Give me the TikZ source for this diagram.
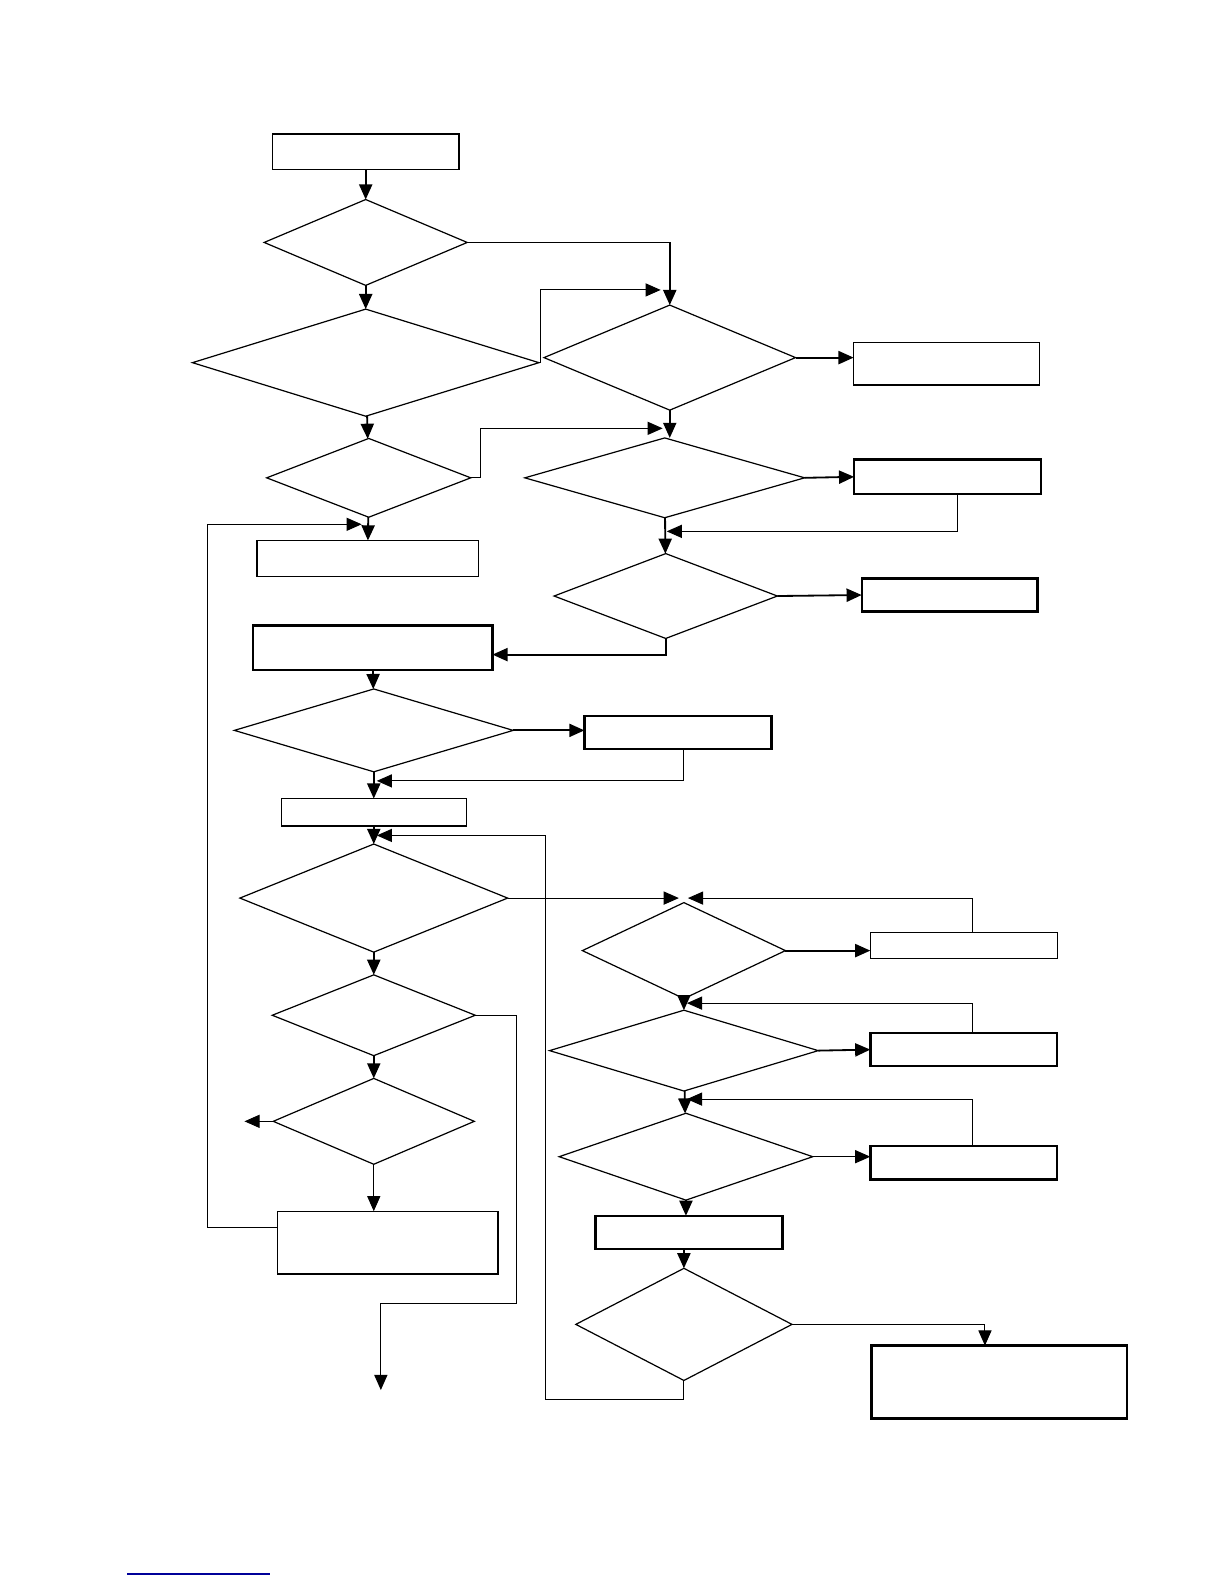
\documentclass[tikz,border=0pt]{standalone}
\usepackage{tikz}
\usetikzlibrary{shapes.geometric,arrows.meta}

\begin{document}
\begin{tikzpicture}[x=1pt,y=-1pt,
		blk/.style={draw, rectangle, inner sep=0pt, outer sep=0pt, line width=1.3pt},
		blkb/.style={blk, line width=2.4pt},
		dec/.style={draw, diamond, inner sep=0pt, outer sep=0pt, line width=1.2pt},
		arr/.style={-{Triangle[length=15pt,width=13pt]}, line width=1.8pt},
		back/.style={-{Triangle[length=15pt,width=13pt]}, line width=1pt}]

	\fill[white] (0,0) rectangle (1212,1568);

	% left column
	\node[blk, minimum width=185pt, minimum height=35pt] (start) at (362,150) {};
	\node[dec, minimum width=201pt, minimum height=85pt] (q1) at (362,240) {};
	\node[dec, minimum width=343pt, minimum height=106pt] (q2) at (362,359) {};
	\node[dec, minimum width=202pt, minimum height=78pt] (q4) at (365,473) {};
	\node[blk, minimum width=219pt, minimum height=36pt] (b1) at (364,553) {};
	\node[blkb, minimum width=237pt, minimum height=44pt] (b2) at (369,641) {};
	\node[dec, minimum width=276pt, minimum height=82pt] (q7) at (370,723) {};
	\node[blk, minimum width=183pt, minimum height=27pt] (b3) at (370,804) {};
	\node[dec, minimum width=265pt, minimum height=107pt] (q8) at (370,889) {};
	\node[dec, minimum width=201pt, minimum height=80pt] (q10) at (370,1005) {};
	\node[dec, minimum width=199pt, minimum height=85pt] (q11) at (370,1110) {};
	\node[blk, minimum width=218pt, minimum height=62pt] (b4) at (384,1230) {};

	% right column
	\node[dec, minimum width=249pt, minimum height=104pt] (q3) at (663,354) {};
	\node[dec, minimum width=277pt, minimum height=79pt] (q5) at (658,473) {};
	\node[dec, minimum width=221pt, minimum height=84pt] (q6) at (659,590) {};
	\node[blkb, minimum width=185pt, minimum height=33pt] (b5) at (671,725) {};
	\node[dec, minimum width=201pt, minimum height=95pt] (q9) at (677,941) {};
	\node[dec, minimum width=266pt, minimum height=80pt] (q12) at (677,1040) {};
	\node[dec, minimum width=251pt, minimum height=86pt] (q13) at (679,1145) {};
	\node[blkb, minimum width=185pt, minimum height=33pt] (b6) at (682,1220) {};
	\node[dec, minimum width=214pt, minimum height=111pt] (q14) at (677,1311) {};

	% far right boxes
	\node[blk, minimum width=184pt, minimum height=42pt] (r1) at (937,360) {};
	\node[blkb, minimum width=185pt, minimum height=34pt] (r2) at (938,472) {};
	\node[blkb, minimum width=174pt, minimum height=33pt] (r3) at (940,589) {};
	\node[blk, minimum width=185pt, minimum height=26pt] (r4) at (954,936) {};
	\node[blkb, minimum width=185pt, minimum height=33pt] (r5) at (954,1039) {};
	\node[blkb, minimum width=185pt, minimum height=33pt] (r6) at (954,1151) {};
	\node[blkb, minimum width=253pt, minimum height=72pt] (r7) at (989,1368) {};

	% free ends of connectors
	\coordinate (m1) at (654,287);
	\coordinate (m2) at (656,424);
	\coordinate (m3) at (660,526);
	\coordinate (lp) at (205,519);
	\coordinate (m4) at (358,519);
	\coordinate (m5) at (373,773);
	\coordinate (c6) at (540,1385);
	\coordinate (m6) at (373,827);
	\coordinate (m7) at (672,889);
	\coordinate (m8) at (681,889);
	\coordinate (c7) at (511,1290);
	\coordinate (m9) at (377,1376);
	\coordinate (m10) at (242,1110);
	\coordinate (m11) at (680,993);
	\coordinate (m12) at (680,1088);

	% main flow
	\draw[arr] (start) -- (start |- q1.north);
	\draw[arr] (q1) -- (q2);
	\draw[arr] (q2) -- (q4);
	\draw[arr] (q4) -- (b1);
	\draw[arr] (q1.east) -| (q3.north);
	\draw[back] (q2.east) -- ++(2,0) |- (m1);
	\draw[arr] (q3.east) -- (q3.east -| r1.west);
	\draw[arr] (q3.south) -- (q3.south |- q5.north);
	\draw[back] (q4.east) -- ++(10,0) |- (m2);
	\draw[arr] (q5.east) -- (r2.west);
	\draw[back] ([xshift=10pt]r2.south) |- (m3);
	\draw[arr] (q5) -- (q6);
	\draw[arr] (q6.east) -- (r3.west);
	\draw[arr] (q6.south) |- ([yshift=-7pt]b2.east);
	\draw[back] ([yshift=15pt]b4.west) -| (lp) -- (m4);
	\draw[arr] (b2) -- (q7);
	\draw[arr] (q7.east) -- (q7.east -| b5.west);
	\draw[back] ([xshift=6pt]b5.south) |- (m5);
	\draw[arr] (q7) -- (b3);
	\draw[arr] (b3) -- (q8);
	\draw[back] (q14.south) |- (c6) |- (m6);

	% lower right part
	\draw[back] (q8.east) -- (m7);
	\draw[back] ([xshift=9pt]r4.north) |- (m8);
	\draw[arr] (q9.east) -- (q9.east -| r4.west);
	\draw[arr] (q9) -- (q12);
	\draw[back] ([xshift=9pt]r5.north) |- (m11);
	\draw[arr] (q12.east) -- (r5.west);
	\draw[arr] (q12) -- (q13);
	\draw[back] ([xshift=9pt]r6.north) |- (m12);
	\draw[back] (q13.east) -- (q13.east -| r6.west);
	\draw[arr] (q13.south) -- (q13.south |- b6.north);
	\draw[arr] ([xshift=-5pt]b6.south) -- (q14.north);
	\draw[back] (q14.east) -| ([xshift=-14pt]r7.north);

	% lower left part
	\draw[arr] (q8) -- (q10);
	\draw[back] (q10.east) -| (c7) -| (m9);
	\draw[arr] (q10) -- (q11);
	\draw[back] (q11.west) -- (m10);
	\draw[back] (q11.south) -- (q11.south |- b4.north);

	\draw[blue!60!black, line width=1.3pt] (126,1558) -- (267,1558);
\end{tikzpicture}
\end{document}
